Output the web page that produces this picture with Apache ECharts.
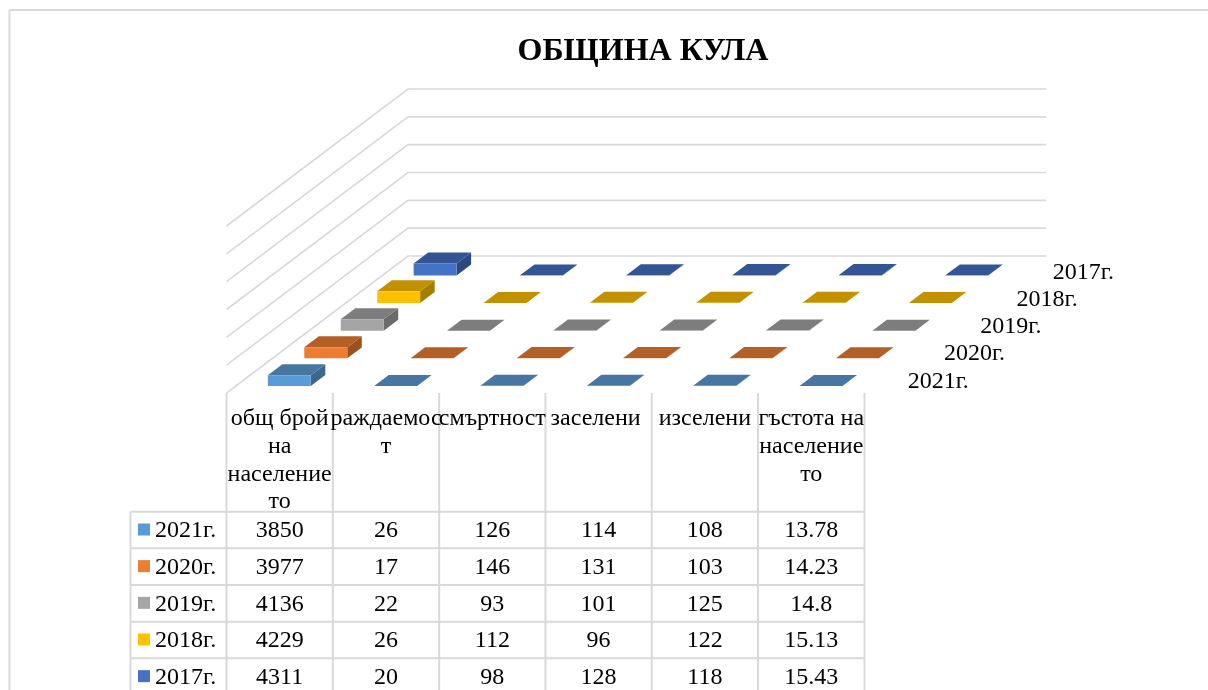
<!DOCTYPE html>
<html>
<head>
<meta charset="utf-8">
<style>html,body{margin:0;padding:0;background:#fff}#c{width:1208px;height:690px}</style>
<script src="https://cdn.jsdelivr.net/npm/echarts@6/dist/echarts.min.js"></script>
</head>
<body>
<div id="c"></div>
<script>
const titleText = 'ОБЩИНА КУЛА';
const categories = ['общ брой на населението', 'раждаемост', 'смъртност', 'заселени', 'изселени', 'гъстота на населението'];
const headerLines = [
  ['общ брой', 'на', 'население', 'то'],
  ['раждаемос', 'т'],
  ['смъртност'],
  ['заселени '],
  ['изселени'],
  ['гъстота на', 'население', 'то']
];
const years = ['2021г.', '2020г.', '2019г.', '2018г.', '2017г.'];
const v2021 = [3850, 26, 126, 114, 108, 13.78];
const v2020 = [3977, 17, 146, 131, 103, 14.23];
const v2019 = [4136, 22, 93, 101, 125, 14.8];
const v2018 = [4229, 26, 112, 96, 122, 15.13];
const v2017 = [4311, 20, 98, 128, 118, 15.43];
const yearValues = [v2021, v2020, v2019, v2018, v2017];
const valueTicks = [0, 10000, 20000, 30000, 40000, 50000, 60000];
const frontColors = ['#5B9BD5', '#ED7D31', '#A5A5A5', '#FFC000', '#4472C4'];
const topColors = ['#4676A1', '#B45F25', '#7D7D7D', '#C19100', '#335593'];
const sideColors = ['#3D678D', '#9A5120', '#6B6B6B', '#A57C00', '#2C4A80'];

const FONT = '"Liberation Serif", "Times New Roman", serif';
const GRID = { left: 226.5, right: 864.5, top: 226, bottom: 393 };
const STEP = { x: 36.3, y: 27.4 };       // oblique shift of one depth slot (walls)
const BAR_STEP = { x: 36.45, y: 27.65 }; // oblique shift between bar rows
const BAR_FRONT = 0.255, BAR_BACK = 0.655, BAR_WIDTH = 0.404;
const LINE = '#D9D9D9';

function wallItem(params, api) {
  const a = api.coord([0, api.value(0)]);
  const b = api.coord([categories.length - 1, api.value(0)]);
  const half = api.size([1, 0])[0] / 2;
  const fl = [a[0] - half, a[1]];
  const bl = [fl[0] + STEP.x * years.length, fl[1] - STEP.y * years.length];
  const br = [b[0] + half + STEP.x * years.length, bl[1]];
  return {
    type: 'polyline', silent: true,
    shape: { points: [fl, bl, br] },
    style: { stroke: LINE, lineWidth: 1.6, fill: null }
  };
}

function barRenderer(d) {
  return function (params, api) {
    const base = api.coord([api.value(0), 0]);
    const top = api.coord([api.value(0), api.value(1)]);
    const w = api.size([1, 0])[0] * BAR_WIDTH;
    const x0 = base[0] - w / 2 + STEP.x * BAR_FRONT + BAR_STEP.x * d + 0.4, x1 = x0 + w;
    const shiftY = STEP.y * BAR_FRONT + BAR_STEP.y * d;
    const yb = base[1] - shiftY, yt = top[1] - shiftY;
    const ox = STEP.x * (BAR_BACK - BAR_FRONT), oy = STEP.y * (BAR_BACK - BAR_FRONT);
    return {
      type: 'group', silent: true,
      children: [
        { type: 'polygon', shape: { points: [[x1, yb], [x1 + ox, yb - oy], [x1 + ox, yt - oy], [x1, yt]] }, style: { fill: sideColors[d] } },
        { type: 'polygon', shape: { points: [[x0, yt], [x1, yt], [x1 + ox, yt - oy], [x0 + ox, yt - oy]] }, style: { fill: topColors[d] } },
        { type: 'rect', shape: { x: x0, y: yt, width: w, height: yb - yt }, style: { fill: frontColors[d] } }
      ]
    };
  };
}

function depthLabelItem(params, api) {
  const d = api.value(0);
  const p = api.coord([categories.length - 1, 0]);
  const half = api.size([1, 0])[0] / 2;
  return {
    type: 'text', silent: true,
    style: {
      x: p[0] + half + STEP.x * (d + 0.5) + 25,
      y: p[1] - 27.25 * d - 11.7,
      text: years[d],
      font: '24px ' + FONT, fill: '#000',
      textAlign: 'left', textVerticalAlign: 'middle'
    }
  };
}

const series = [
  { type: 'custom', coordinateSystem: 'cartesian2d', silent: true, renderItem: wallItem, data: valueTicks.map(v => [v]), encode: { y: 0 }, clip: false },
  { type: 'custom', coordinateSystem: 'cartesian2d', silent: true, renderItem: depthLabelItem, data: years.map((y, d) => [d]), clip: false }
];
for (let d = years.length - 1; d >= 0; d--) {
  series.push({
    name: years[d], type: 'custom', coordinateSystem: 'cartesian2d', silent: true, clip: false,
    renderItem: barRenderer(d),
    encode: { x: 0, y: 1 },
    data: yearValues[d].map((v, i) => [i, v])
  });
}

// data table
const colX = [226.5, 332.8, 439.2, 545.5, 651.7, 758, 864.5];
const legendLeft = 130.5;
const rowY = [511.7, 548.3, 585, 621.7, 658.3, 695];
const headerTop = 393, lineHeight = 27.7, headerFirst = 419;
const g = [];
function ln(x1, y1, x2, y2) {
  g.push({ type: 'line', silent: true, shape: { x1, y1, x2, y2 }, style: { stroke: LINE, lineWidth: 2 } });
}
function txt(x, y, text, align) {
  g.push({ type: 'text', silent: true, style: { x, y, text, font: '24px ' + FONT, fill: '#000', textAlign: align || 'center', textVerticalAlign: 'middle' } });
}
// chart frame
ln(9.5, 10, 1208, 10);
ln(9.5, 10, 9.5, 690);
colX.forEach(x => ln(x, headerTop, x, 690));
ln(legendLeft, rowY[0], legendLeft, 690);
rowY.forEach(y => ln(legendLeft, y, colX[colX.length - 1], y));
headerLines.forEach((lines, c) => {
  lines.forEach((t, i) => txt((colX[c] + colX[c + 1]) / 2, headerFirst + i * lineHeight, t));
});
years.forEach((y, r) => {
  const cy = (rowY[r] + rowY[r + 1]) / 2;
  g.push({ type: 'rect', silent: true, shape: { x: 138, y: cy - 6.5, width: 12, height: 12 }, style: { fill: frontColors[r] } });
  txt(155, cy + 1, y, 'left');
  yearValues[r].forEach((v, c) => txt((colX[c] + colX[c + 1]) / 2, cy + 1, String(v)));
});

const chart = echarts.init(document.getElementById('c'), null, { renderer: 'canvas' });
chart.setOption({
  animation: false,
  backgroundColor: '#fff',
  title: {
    text: titleText, left: 638, top: 31, textAlign: 'center',
    textStyle: { fontFamily: FONT, fontSize: 32, fontWeight: 'bold', color: '#000' }
  },
  grid: { left: GRID.left, top: GRID.top, width: GRID.right - GRID.left, height: GRID.bottom - GRID.top },
  xAxis: { type: 'category', data: categories, show: false },
  yAxis: { type: 'value', min: 0, max: 60000, interval: 10000, show: false },
  graphic: g,
  series: series
});
</script>
</body>
</html>
